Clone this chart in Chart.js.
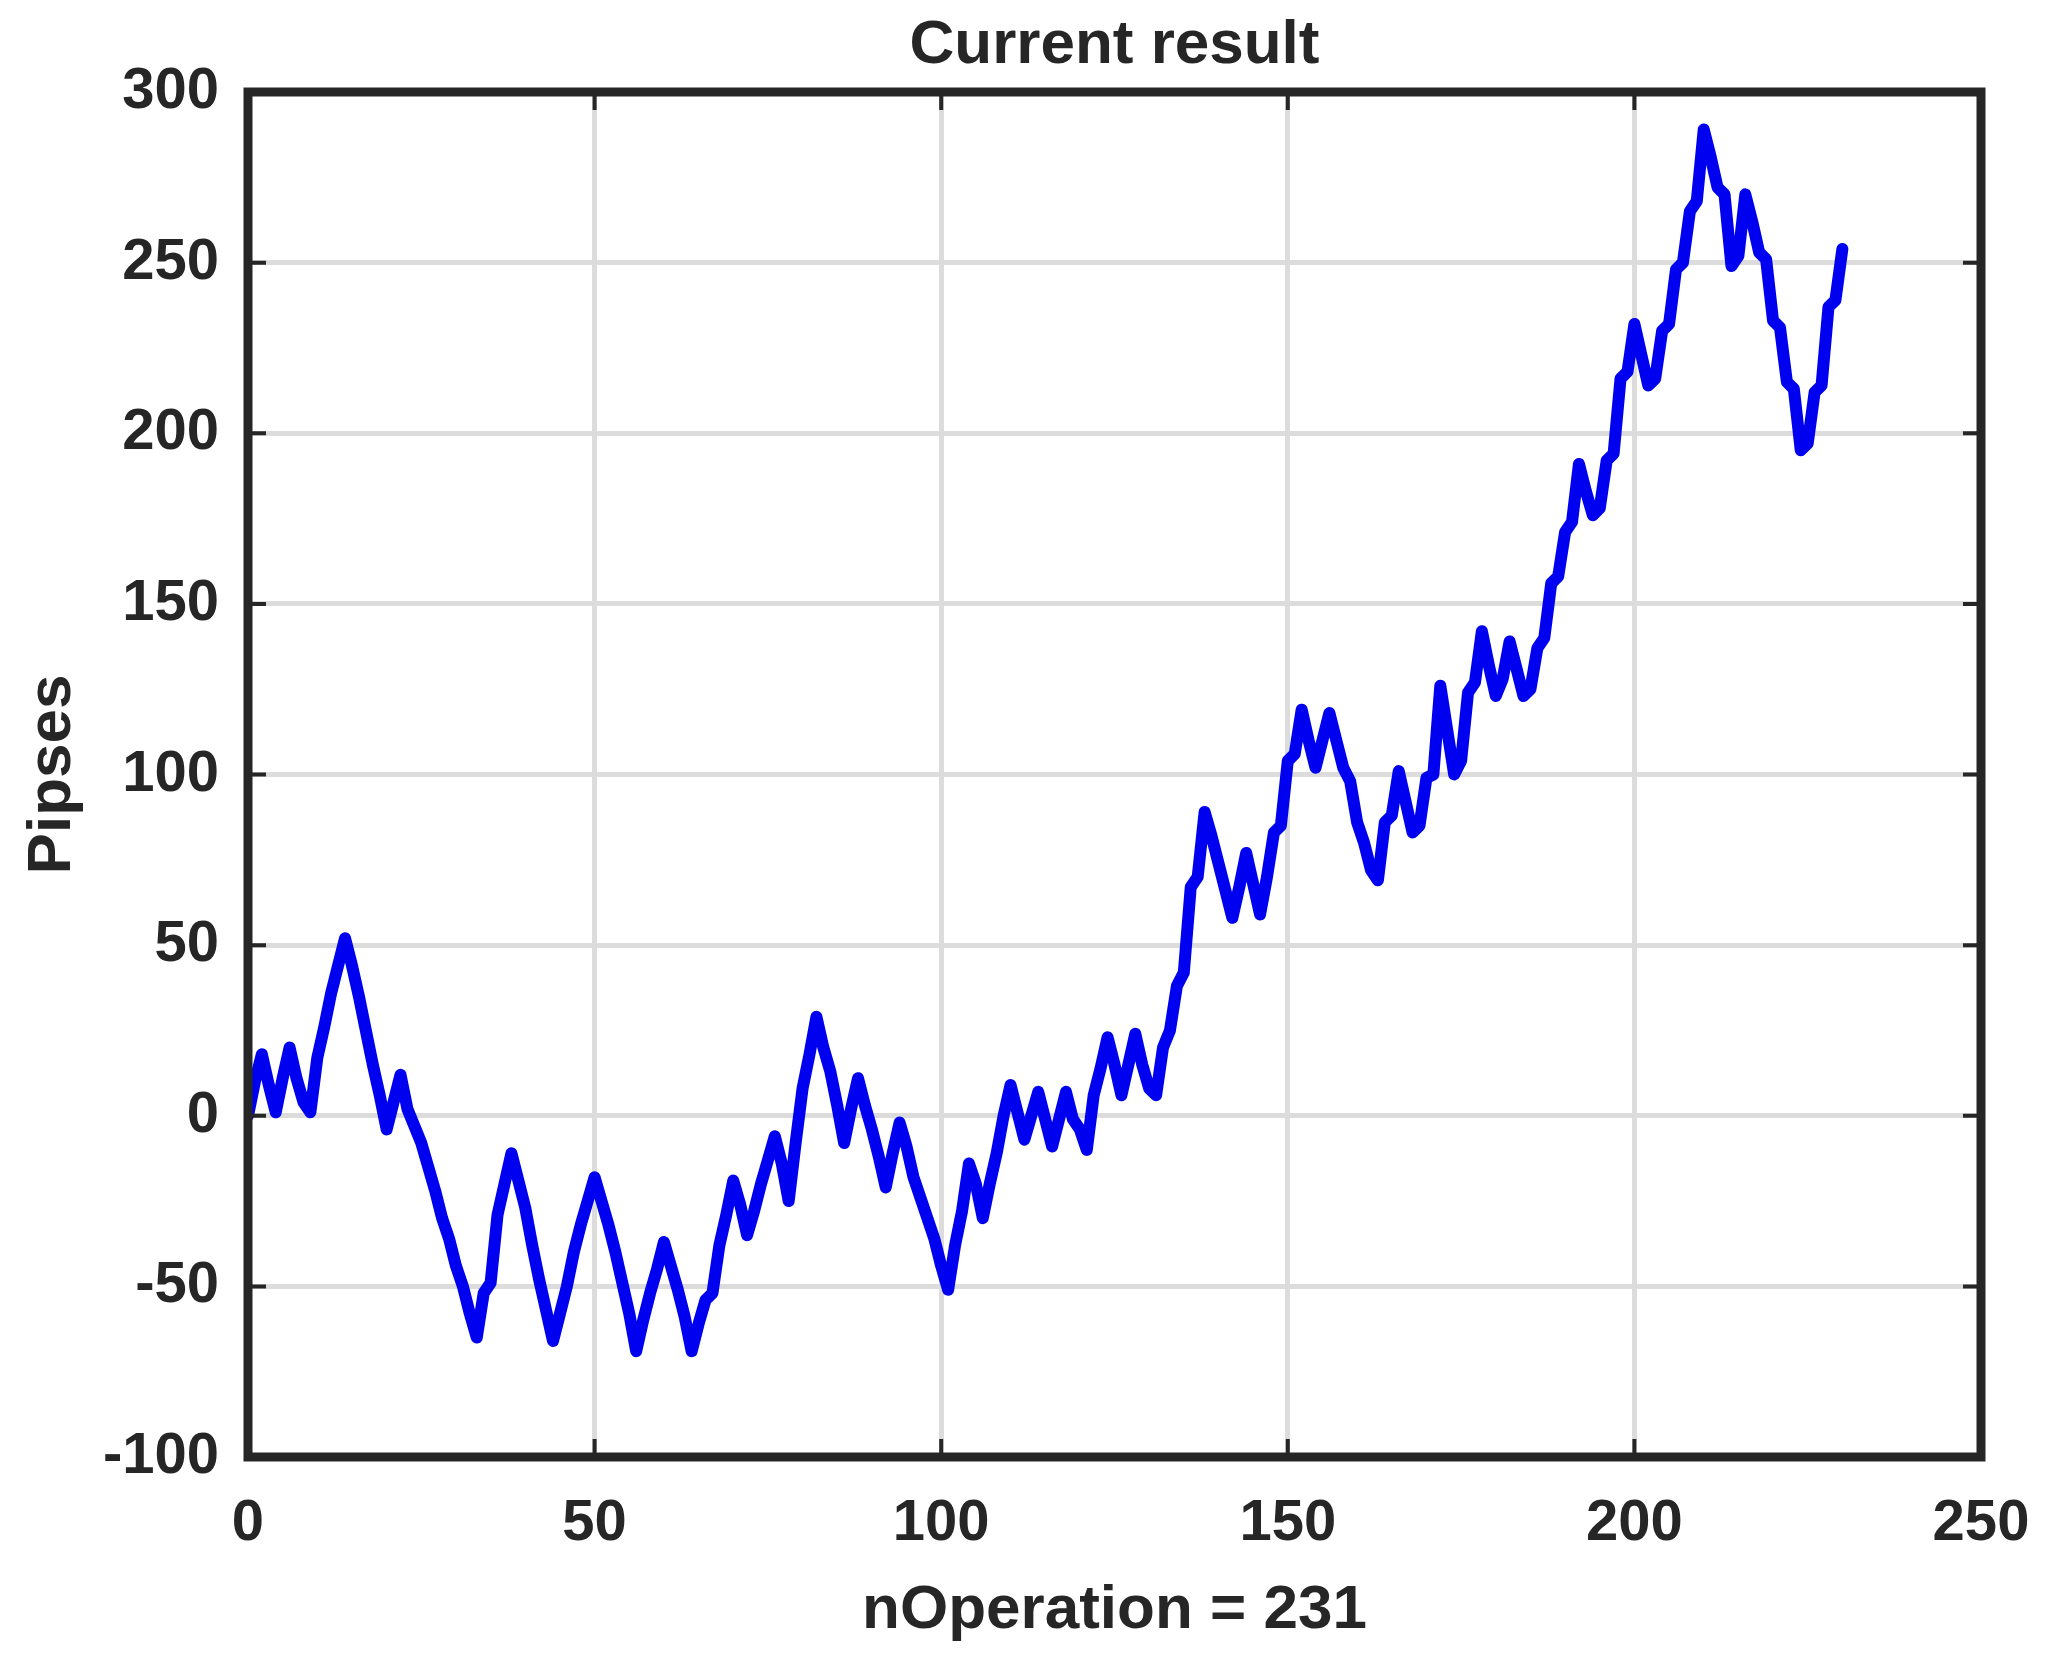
<!DOCTYPE html>
<html>
<head>
<meta charset="utf-8">
<script src="https://cdn.jsdelivr.net/npm/chart.js@4.4.1/dist/chart.umd.min.js"></script>
<style>
  html, body { margin: 0; padding: 0; background: #ffffff; }
  #wrap { width: 2048px; height: 1666px; }
</style>
</head>
<body>
<div id="wrap"><canvas id="c" width="2048" height="1666"></canvas></div>
<script>
// ---- data ----
const chartTitle = "Current result";
const xAxisTitle = "nOperation = 231";
const yAxisTitle = "Pipses";
const xTickValues = [0, 50, 100, 150, 200, 250];
const yTickValues = [-100, -50, 0, 50, 100, 150, 200, 250, 300];
const pipses = [
  0, 10, 18, 9, 1, 11, 20, 11, 4, 1,
  17, 26, 36, 44, 52, 44, 35, 25, 15, 6,
  -4, 4, 12, 2, -3, -8, -15, -22, -30, -36,
  -44, -50, -58, -65, -52, -49, -29, -20, -11, -19,
  -27, -38, -48, -57, -66, -58, -50, -40, -32, -25,
  -18, -25, -32, -40, -49, -58, -69, -60, -52, -45,
  -37, -44, -51, -59, -69, -61, -54, -52, -38, -29,
  -19, -26, -35, -28, -20, -13, -6, -14, -25, -8,
  8, 18, 29, 20, 13, 3, -8, 2, 11, 3,
  -4, -12, -21, -11, -2, -9, -18, -24, -30, -36,
  -44, -51, -38, -28, -14, -20, -30, -20, -11, 0,
  9, 1, -7, 0, 7, -1, -9, -1, 7, -1,
  -4, -10, 6, 14, 23, 15, 6, 15, 24, 15,
  8, 6, 20, 25, 38, 42, 67, 70, 89, 82,
  74, 66, 58, 67, 77, 68, 59, 70, 83, 85,
  104, 106, 119, 110, 102, 110, 118, 110, 102, 98,
  86, 80, 72, 69, 86, 88, 101, 92, 83, 85,
  99, 100, 126, 113, 100, 104, 124, 127, 142, 132,
  123, 128, 139, 131, 123, 125, 137, 140, 156, 158,
  171, 174, 191, 183, 176, 178, 192, 194, 216, 218,
  232, 223, 214, 216, 230, 232, 248, 250, 265, 268,
  289, 281, 272, 270, 249, 252, 270, 262, 253, 251,
  233, 231, 215, 213, 195, 197, 212, 214, 237, 239,
  254
];
const operationIndex = pipses.map((_, i) => i);

// ---- styling ----
const FONT = "'Liberation Sans', Arial, Helvetica, sans-serif";
const AXIS_COLOR = '#262626';
const GRID_COLOR = '#dcdcdc';
const LINE_COLOR = '#0000f0';

const points = operationIndex.map((x, i) => ({ x: x, y: pipses[i] }));

const framePlugin = {
  id: 'frame',
  beforeDraw(chart) {
    const ctx = chart.ctx;
    ctx.save();
    ctx.fillStyle = '#ffffff';
    ctx.fillRect(0, 0, chart.width, chart.height);
    ctx.restore();
  },
  afterDraw(chart) {
    const ctx = chart.ctx;
    const a = chart.chartArea;
    const xs = chart.scales.x, ys = chart.scales.y;
    ctx.save();
    ctx.strokeStyle = AXIS_COLOR;
    ctx.lineWidth = 4;
    const tl = 18;
    xTickValues.forEach(v => {
      const px = xs.getPixelForValue(v);
      ctx.beginPath();
      ctx.moveTo(px, a.bottom); ctx.lineTo(px, a.bottom - tl);
      ctx.moveTo(px, a.top); ctx.lineTo(px, a.top + tl);
      ctx.stroke();
    });
    yTickValues.forEach(v => {
      const py = ys.getPixelForValue(v);
      ctx.beginPath();
      ctx.moveTo(a.left, py); ctx.lineTo(a.left + tl, py);
      ctx.moveTo(a.right, py); ctx.lineTo(a.right - tl, py);
      ctx.stroke();
    });
    ctx.lineWidth = 9;
    ctx.strokeRect(a.left, a.top, a.right - a.left, a.bottom - a.top);
    ctx.fillStyle = AXIS_COLOR;
    ctx.font = "bold 62px " + FONT;
    ctx.textAlign = 'center';
    ctx.textBaseline = 'alphabetic';
    ctx.fillText(chartTitle, (a.left + a.right) / 2, 63);
    ctx.restore();
  }
};

function noPad(s) {
  s.paddingLeft = 0; s.paddingRight = 0; s.paddingTop = 0; s.paddingBottom = 0;
}

new Chart(document.getElementById('c'), {
  type: 'line',
  data: {
    datasets: [{
      data: points,
      borderColor: LINE_COLOR,
      borderWidth: 12,
      pointRadius: 0,
      tension: 0,
      fill: false,
      borderJoinStyle: 'round',
      borderCapStyle: 'round'
    }]
  },
  options: {
    responsive: false,
    devicePixelRatio: 1,
    animation: false,
    layout: { padding: { top: 92, right: 67, left: 0, bottom: 0 } },
    plugins: {
      legend: { display: false },
      tooltip: { enabled: false },
      title: { display: false }
    },
    scales: {
      x: {
        type: 'linear',
        min: 0, max: 250,
        afterFit: s => { s.height = 209; noPad(s); },
        afterBuildTicks: s => { s.ticks = xTickValues.map(v => ({ value: v })); },
        ticks: {
          autoSkip: false, maxRotation: 0, padding: 32,
          color: AXIS_COLOR,
          font: { family: FONT, size: 58, weight: 'bold' }
        },
        grid: { color: GRID_COLOR, lineWidth: 5, drawTicks: false },
        border: { display: false },
        title: {
          display: true, text: xAxisTitle, color: AXIS_COLOR,
          font: { family: FONT, size: 62, weight: 'bold' },
          padding: { top: 0, bottom: 18 }
        }
      },
      y: {
        type: 'linear',
        min: -100, max: 300,
        afterFit: s => { s.width = 248; noPad(s); },
        afterBuildTicks: s => { s.ticks = yTickValues.map(v => ({ value: v })); },
        ticks: {
          autoSkip: false, padding: 29,
          color: AXIS_COLOR,
          font: { family: FONT, size: 58, weight: 'bold' }
        },
        grid: { color: GRID_COLOR, lineWidth: 5, drawTicks: false },
        border: { display: false },
        title: {
          display: true, text: yAxisTitle, color: AXIS_COLOR,
          font: { family: FONT, size: 62, weight: 'bold' },
          padding: { top: 16, bottom: 0 }
        }
      }
    }
  },
  plugins: [framePlugin]
});
</script>
</body>
</html>
